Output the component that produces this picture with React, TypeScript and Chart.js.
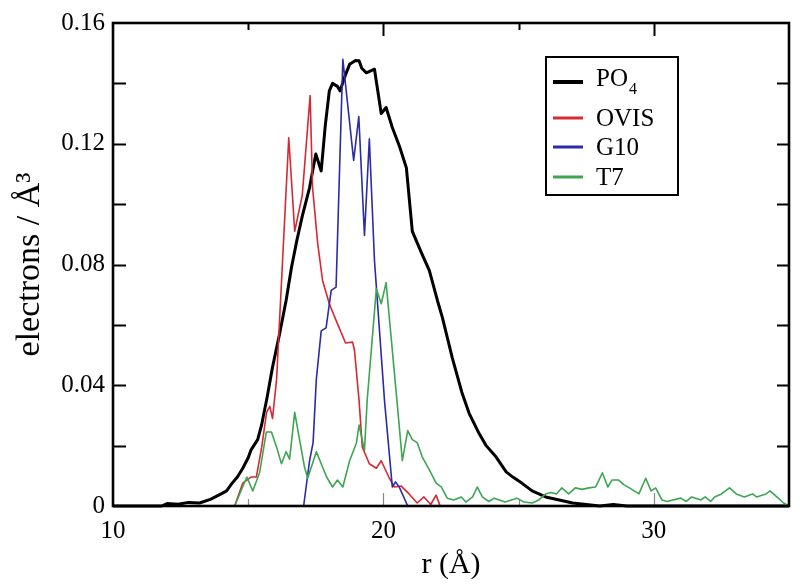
import React, { useEffect, useRef } from 'react';
import { Chart, registerables } from 'chart.js';

Chart.register(...registerables);

// ---- data (r in Å, density in electrons / Å^3) ----
const po4X = [10, 11.8, 12.0, 12.4, 12.8, 13.2, 13.6, 14.0, 14.2, 14.4, 14.6, 14.8, 15.0, 15.1, 15.35, 15.5, 15.7, 15.9, 16.16, 16.4, 16.6, 16.8, 17.0, 17.27, 17.5, 17.7, 17.85, 18.0, 18.12, 18.3, 18.4, 18.56, 18.75, 18.97, 19.1, 19.2, 19.37, 19.67, 19.92, 20.1, 20.33, 20.6, 20.85, 21.07, 21.4, 21.7, 22.0, 22.18, 22.55, 22.9, 23.17, 23.54, 23.8, 24.17, 24.54, 24.8, 25.13, 25.5, 26.0, 26.5, 27.0, 27.5, 28.0, 28.5, 29.0, 35];
const po4Y = [0, 0, 0.0008, 0.0006, 0.0012, 0.001, 0.0022, 0.004, 0.005, 0.0075, 0.0096, 0.0125, 0.016, 0.0185, 0.022, 0.027, 0.036, 0.046, 0.057, 0.068, 0.079, 0.088, 0.096, 0.1055, 0.1166, 0.111, 0.126, 0.1375, 0.14, 0.139, 0.1375, 0.142, 0.1463, 0.1476, 0.1475, 0.145, 0.1435, 0.1447, 0.13, 0.132, 0.1254, 0.119, 0.112, 0.091, 0.084, 0.078, 0.068, 0.0625, 0.049, 0.0377, 0.0307, 0.024, 0.02, 0.0162, 0.0113, 0.0095, 0.0075, 0.005, 0.003, 0.002, 0.001, 0.0005, 0, 0.0005, 0, 0];

const ovisX = [10, 14.5, 14.8, 15.1, 15.3, 15.5, 15.68, 15.8, 15.9, 16.05, 16.5, 16.72, 17.0, 17.29, 17.38, 17.57, 17.75, 18.0, 18.25, 18.6, 18.86, 18.93, 19.1, 19.22, 19.48, 19.74, 19.92, 20.2, 20.4, 20.66, 20.95, 21.25, 21.5, 21.75, 21.95, 22.1, 35];
const ovisY = [0, 0, 0.0076, 0.0096, 0.0096, 0.0195, 0.031, 0.033, 0.029, 0.042, 0.122, 0.091, 0.103, 0.136, 0.1055, 0.087, 0.0747, 0.067, 0.0615, 0.054, 0.0543, 0.0516, 0.035, 0.0195, 0.014, 0.0125, 0.015, 0.0096, 0.0063, 0.0066, 0.004, 0.001, 0.003, 0.0005, 0.0036, 0, 0];

const g10X = [10, 17.05, 17.27, 17.4, 17.52, 17.7, 17.88, 18.07, 18.25, 18.5, 18.9, 19.09, 19.3, 19.48, 19.67, 20.04, 20.33, 20.45, 20.6, 20.9, 35];
const g10Y = [0, 0, 0.015, 0.021, 0.042, 0.058, 0.059, 0.0714, 0.0725, 0.148, 0.1145, 0.129, 0.0896, 0.1216, 0.0813, 0.035, 0.0063, 0.008, 0.006, 0, 0];

const t7X = [10, 14.5, 14.95, 15.17, 15.42, 15.67, 15.86, 16.05, 16.23, 16.4, 16.53, 16.72, 16.9, 17.08, 17.2, 17.52, 17.7, 17.9, 18.12, 18.3, 18.5, 18.75, 19.0, 19.1, 19.3, 19.4, 19.74, 19.92, 20.1, 20.5, 20.7, 20.9, 21.07, 21.25, 21.44, 21.7, 21.95, 22.14, 22.36, 22.6, 22.88, 23.05, 23.3, 23.47, 23.66, 23.9, 24.1, 24.5, 24.94, 25.2, 25.5, 25.75, 26.0, 26.2, 26.4, 26.6, 26.85, 27.1, 27.35, 27.6, 27.85, 28.1, 28.3, 28.45, 28.7, 28.9, 29.1, 29.45, 29.7, 29.9, 30.07, 30.3, 30.5, 30.7, 31.0, 31.2, 31.4, 31.75, 31.9, 32.1, 32.25, 32.5, 32.8, 33.05, 33.35, 33.65, 33.8, 34.15, 34.3, 34.55, 34.8, 35];
const t7Y = [0, 0, 0.0096, 0.005, 0.011, 0.0245, 0.0245, 0.0195, 0.014, 0.018, 0.0155, 0.031, 0.022, 0.013, 0.0092, 0.018, 0.014, 0.0096, 0.0063, 0.0086, 0.0063, 0.015, 0.0208, 0.0268, 0.0185, 0.035, 0.072, 0.067, 0.074, 0.035, 0.015, 0.025, 0.022, 0.021, 0.0162, 0.012, 0.0076, 0.0063, 0.0026, 0.002, 0.003, 0.0013, 0.003, 0.0063, 0.003, 0.0015, 0.0026, 0.0013, 0.0026, 0.0013, 0.001, 0.002, 0.004, 0.0045, 0.004, 0.006, 0.004, 0.006, 0.0055, 0.006, 0.0063, 0.011, 0.0063, 0.0086, 0.0086, 0.007, 0.006, 0.004, 0.0092, 0.005, 0.006, 0.002, 0.0015, 0.002, 0.0026, 0.0015, 0.003, 0.002, 0.003, 0.0015, 0.003, 0.004, 0.006, 0.004, 0.003, 0.004, 0.003, 0.004, 0.005, 0.003, 0.001, 0];

const seriesLabels = ['PO4', 'OVIS', 'G10', 'T7'];
const legendMain = ['PO', 'OVIS', 'G10', 'T7'];
const legendSub = ['4', '', '', ''];

const xTickLabels = [10, 20, 30];
const xTickMarks = [15, 20, 25, 30];
const yTickLabels = [0, 0.04, 0.08, 0.12, 0.16];
const yTickMarks = [0.02, 0.04, 0.06, 0.08, 0.1, 0.12, 0.14];

const xTitle = 'r (Å)';
const yTitle = 'electrons / Å³';

// ---- styles ----
const FONT = "'Liberation Serif', 'Times New Roman', serif";
const colors = ['#000000', '#d42a34', '#2b2ba6', '#3ea552'];
const widths = [3, 1.6, 1.6, 1.6];

const framePlugin = {
  id: 'frame',
  beforeDatasetsDraw(chart: any) {
    const { ctx, chartArea: a, scales } = chart;
    const xs = scales.x;
    const ys = scales.y;
    ctx.save();
    for (const v of xTickMarks) {
      const px = Math.round(xs.getPixelForValue(v)) + 0.5;
      const len = xTickLabels.includes(v) ? 13 : 7;
      ctx.strokeStyle = '#000';
      ctx.lineWidth = 2;
      ctx.beginPath();
      ctx.moveTo(px, a.top);
      ctx.lineTo(px, a.top + len);
      ctx.stroke();
      ctx.strokeStyle = '#888';
      ctx.lineWidth = 1.2;
      ctx.beginPath();
      ctx.moveTo(px, a.bottom);
      ctx.lineTo(px, a.bottom - len);
      ctx.stroke();
    }
    ctx.strokeStyle = '#000';
    ctx.lineWidth = 2.2;
    for (const v of yTickMarks) {
      const py = Math.round(ys.getPixelForValue(v)) + 0.5;
      ctx.beginPath();
      ctx.moveTo(a.left, py);
      ctx.lineTo(a.left + 13, py);
      ctx.moveTo(a.right, py);
      ctx.lineTo(a.right - 12, py);
      ctx.stroke();
    }
    ctx.restore();
  },
  afterDatasetsDraw(chart: any) {
    const { ctx, chartArea: a } = chart;
    ctx.save();
    ctx.strokeStyle = '#000';
    ctx.lineWidth = 2.6;
    ctx.strokeRect(a.left, a.top, a.right - a.left, a.bottom - a.top);

    // y-axis title (rotated)
    ctx.save();
    ctx.font = `34px ${FONT}`;
    ctx.fillStyle = '#000';
    ctx.translate(39, (a.top + a.bottom) / 2);
    ctx.rotate(-Math.PI / 2);
    ctx.textAlign = 'center';
    ctx.textBaseline = 'alphabetic';
    ctx.fillText(yTitle, 0, 0);
    ctx.restore();

    // legend box
    const bx = 546, by = 57, bw = 132, bh = 138;
    ctx.fillStyle = '#fff';
    ctx.fillRect(bx, by, bw, bh);
    ctx.lineWidth = 2;
    ctx.strokeRect(bx, by, bw, bh);
    const rowY = [82, 118, 147, 177];
    chart.data.datasets.forEach((ds: any, i: number) => {
      const y = rowY[i];
      ctx.strokeStyle = ds.borderColor;
      ctx.lineWidth = i === 0 ? 4 : 3;
      ctx.beginPath();
      ctx.moveTo(553, y);
      ctx.lineTo(583, y);
      ctx.stroke();
      ctx.fillStyle = '#000';
      ctx.textAlign = 'left';
      ctx.textBaseline = 'alphabetic';
      ctx.font = `25px ${FONT}`;
      const base = legendSub[i] ? y + 3.5 : y + 8.3;
      ctx.fillText(legendMain[i], 596, base);
      if (legendSub[i]) {
        const tw = ctx.measureText(legendMain[i]).width;
        ctx.font = `16px ${FONT}`;
        ctx.fillText(legendSub[i], 596 + tw + 1, base + 8);
      }
    });
    ctx.restore();
  },
};

export default function App() {
  const ref = useRef<HTMLCanvasElement>(null);
  useEffect(() => {
    const canvas = ref.current;
    if (!canvas) return;
    const mk = (xs: number[], ys: number[]) => xs.map((x, i) => ({ x, y: ys[i] }));
    const series = [mk(po4X, po4Y), mk(ovisX, ovisY), mk(g10X, g10Y), mk(t7X, t7Y)];
    const drawOrder = [4, 3, 2, 1];
    const chart = new Chart(canvas, {
      type: 'line',
      data: {
        datasets: series.map((d, i) => ({
          label: seriesLabels[i],
          data: d,
          borderColor: colors[i],
          backgroundColor: colors[i],
          borderWidth: widths[i],
          pointRadius: 0,
          tension: 0,
          fill: false,
          order: drawOrder[i],
          clip: false as any,
        })),
      },
      options: {
        animation: false,
        responsive: false,
        maintainAspectRatio: false,
        layout: { padding: { top: 22, right: 11, left: 0, bottom: 0 } },
        plugins: { legend: { display: false }, tooltip: { enabled: false } },
        elements: { line: { borderJoinStyle: 'round' } },
        scales: {
          x: {
            type: 'linear',
            min: 10,
            max: 35,
            afterBuildTicks: (s: any) => {
              s.ticks = xTickLabels.map((v) => ({ value: v }));
            },
            afterFit: (s: any) => {
              s.height = 81;
            },
            grid: { display: false, drawTicks: false },
            border: { display: false },
            ticks: {
              padding: 10,
              color: '#000',
              maxRotation: 0,
              autoSkip: false,
              font: { family: FONT, size: 25 },
              callback: (v: any) => String(v),
            },
            title: {
              display: true,
              text: xTitle,
              color: '#000',
              font: { family: FONT, size: 30 },
              padding: { top: 0, bottom: 4 },
            },
          },
          y: {
            type: 'linear',
            min: 0,
            max: 0.16,
            afterBuildTicks: (s: any) => {
              s.ticks = yTickLabels.map((v) => ({ value: v }));
            },
            afterFit: (s: any) => {
              s.width = 113;
            },
            grid: { display: false, drawTicks: false },
            border: { display: false },
            ticks: {
              padding: 8,
              color: '#000',
              autoSkip: false,
              font: { family: FONT, size: 25 },
              callback: (v: any) => (Number(v) === 0 ? '0' : Number(v).toFixed(2)),
            },
            title: { display: false, text: yTitle },
          },
        },
      },
      plugins: [framePlugin],
    });
    return () => chart.destroy();
  }, []);

  return (
    <div style={{ position: 'fixed', left: 0, top: 0, width: 800, height: 587, background: '#fff' }}>
      <canvas ref={ref} width={800} height={587} style={{ display: 'block', width: 800, height: 587 }} />
    </div>
  );
}
